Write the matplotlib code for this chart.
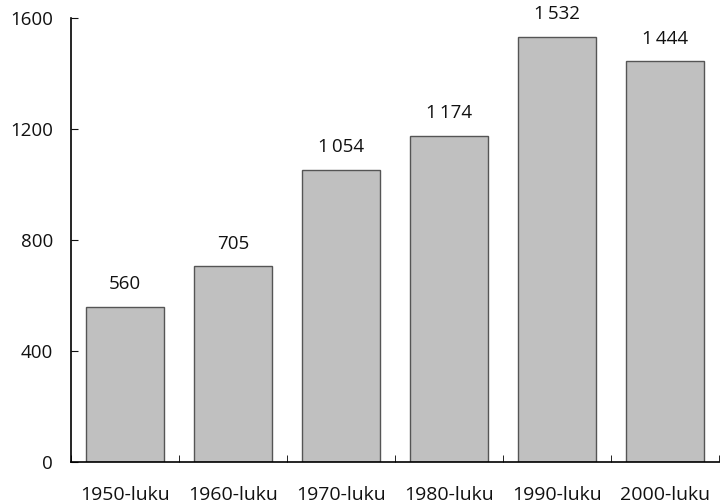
import numpy as np
import matplotlib.pyplot as plt

plt.rcParams['font.family'] = ['Open Sans', 'DejaVu Sans']

categories = ['1950-luku', '1960-luku', '1970-luku', '1980-luku', '1990-luku', '2000-luku']
values = [560, 705, 1054, 1174, 1532, 1444]

fig = plt.figure(figsize=(7.21, 5.04), dpi=100)
ax = fig.add_axes([0.0985, 0.0833, 0.8985, 0.8807])

x = np.arange(len(categories))
ax.bar(x, values, width=0.72, color='#c0c0c0', edgecolor='#555555', linewidth=1.0)

for xi, v in zip(x, values):
    label = f'{v:,}'.replace(',', '\u2009')
    ax.annotate(label, (xi, v), xytext=(0, 10), textcoords='offset points',
                ha='center', va='bottom', fontsize=13.5, color='#111111')

ax.set_xlim(-0.5, len(categories) - 0.5)
ax.set_ylim(0, 1600)
ax.set_yticks([0, 400, 800, 1200, 1600])
ax.tick_params(axis='y', direction='in', length=5, pad=13, labelsize=13.5, colors='#111111')

ax.set_xticks(x)
ax.set_xticklabels(categories)
ax.tick_params(axis='x', which='major', length=0, pad=17, labelsize=14, colors='#111111')
ax.set_xticks(np.arange(-0.5, len(categories), 1), minor=True)
ax.tick_params(axis='x', which='minor', direction='in', length=5)

for s in ['top', 'right']:
    ax.spines[s].set_visible(False)
for s in ['left', 'bottom']:
    ax.spines[s].set_linewidth(1.2)

fig.savefig('out.png', dpi=100)
